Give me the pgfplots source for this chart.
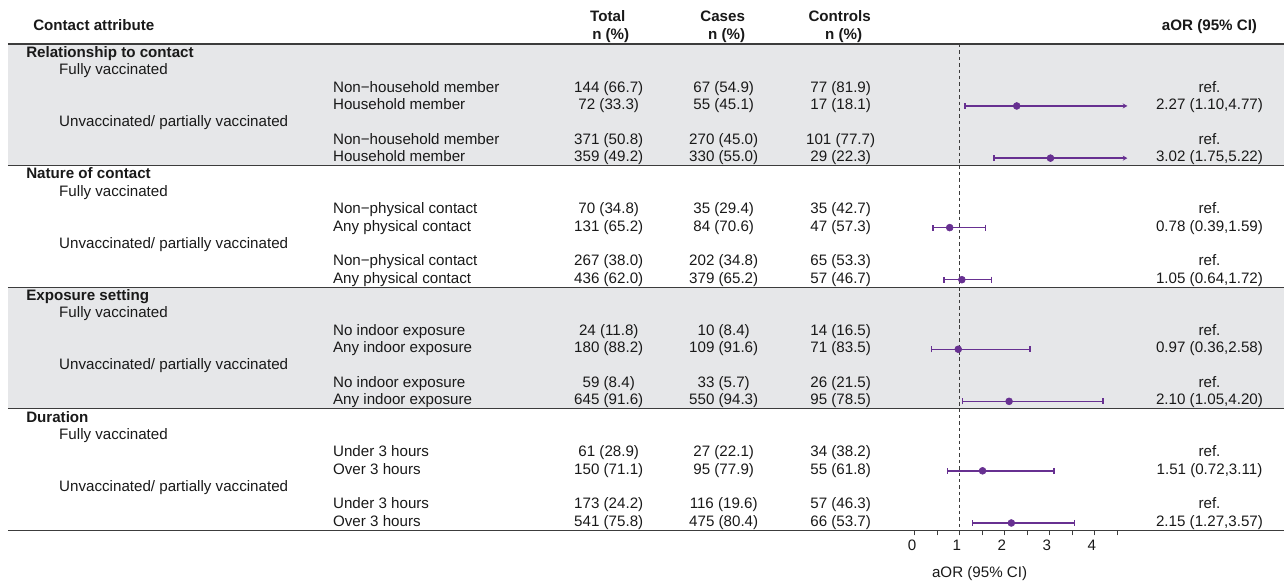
\documentclass[border=0pt]{standalone}
\usepackage{fontspec}
\setmainfont{Liberation Sans}
\usepackage{pgfplots}
\pgfplotsset{compat=1.18}
\usetikzlibrary{arrows.meta}

\definecolor{band}{RGB}{230,231,233}
\definecolor{rulegray}{RGB}{60,60,60}
\definecolor{txt}{RGB}{25,25,25}
\definecolor{purp}{RGB}{103,48,145}

\newcommand\fs{\fontsize{11.36pt}{13.6pt}\selectfont}

% one table row: row number, level, total, cases, controls, aOR text
\newcommand\lvl[6]{%
  \pgfmathsetmacro\yy{57.3+(#1-1)*17.38}
  \node[anchor=base west] at (333,\yy) {#2};
  \node[anchor=base] at (609,\yy) {#3};
  \node[anchor=base] at (724,\yy) {#4};
  \node[anchor=base] at (841,\yy) {#5};
  \node[anchor=base] at (1210,\yy) {#6};
}
\newcommand\grp[2]{%
  \pgfmathsetmacro\yy{57.3+(#1-1)*17.38}
  \node[anchor=base west] at (26,\yy) {\bfseries #2};
}
\newcommand\sub[2]{%
  \pgfmathsetmacro\yy{57.3+(#1-1)*17.38}
  \node[anchor=base west] at (59,\yy) {#2};
}

\begin{document}
\begin{tikzpicture}[x=0.75pt, y=-0.75pt, every node/.style={font=\fs, text=txt, inner sep=0pt}]

\path (0,0) rectangle (1285,584);

% shaded groups
\fill[band] (8,44) rectangle (1285,165.7);
\fill[band] (8,287.3) rectangle (1285,408.9);

% header
\node[anchor=base west] at (33,31) {\bfseries Contact attribute};
\node[anchor=base] at (608,21.7) {\bfseries Total};
\node[anchor=base] at (611,40) {\bfseries n (\%)};
\node[anchor=base] at (723,21.7) {\bfseries Cases};
\node[anchor=base] at (727,40) {\bfseries n (\%)};
\node[anchor=base] at (840,21.7) {\bfseries Controls};
\node[anchor=base] at (844,40) {\bfseries n (\%)};
\node[anchor=base] at (1210,31) {\bfseries aOR (95\% CI)};

\grp{1}{Relationship to contact}
\sub{2}{Fully vaccinated}
\lvl{3}{Non−household member}{144 (66.7)}{67 (54.9)}{77 (81.9)}{ref.}
\lvl{4}{Household member}{72 (33.3)}{55 (45.1)}{17 (18.1)}{2.27 (1.10,4.77)}
\sub{5}{Unvaccinated/ partially vaccinated}
\lvl{6}{Non−household member}{371 (50.8)}{270 (45.0)}{101 (77.7)}{ref.}
\lvl{7}{Household member}{359 (49.2)}{330 (55.0)}{29 (22.3)}{3.02 (1.75,5.22)}

\grp{8}{Nature of contact}
\sub{9}{Fully vaccinated}
\lvl{10}{Non−physical contact}{70 (34.8)}{35 (29.4)}{35 (42.7)}{ref.}
\lvl{11}{Any physical contact}{131 (65.2)}{84 (70.6)}{47 (57.3)}{0.78 (0.39,1.59)}
\sub{12}{Unvaccinated/ partially vaccinated}
\lvl{13}{Non−physical contact}{267 (38.0)}{202 (34.8)}{65 (53.3)}{ref.}
\lvl{14}{Any physical contact}{436 (62.0)}{379 (65.2)}{57 (46.7)}{1.05 (0.64,1.72)}

\grp{15}{Exposure setting}
\sub{16}{Fully vaccinated}
\lvl{17}{No indoor exposure}{24 (11.8)}{10 (8.4)}{14 (16.5)}{ref.}
\lvl{18}{Any indoor exposure}{180 (88.2)}{109 (91.6)}{71 (83.5)}{0.97 (0.36,2.58)}
\sub{19}{Unvaccinated/ partially vaccinated}
\lvl{20}{No indoor exposure}{59 (8.4)}{33 (5.7)}{26 (21.5)}{ref.}
\lvl{21}{Any indoor exposure}{645 (91.6)}{550 (94.3)}{95 (78.5)}{2.10 (1.05,4.20)}

\grp{22}{Duration}
\sub{23}{Fully vaccinated}
\lvl{24}{Under 3 hours}{61 (28.9)}{27 (22.1)}{34 (38.2)}{ref.}
\lvl{25}{Over 3 hours}{150 (71.1)}{95 (77.9)}{55 (61.8)}{1.51 (0.72,3.11)}
\sub{26}{Unvaccinated/ partially vaccinated}
\lvl{27}{Under 3 hours}{173 (24.2)}{116 (19.6)}{57 (46.3)}{ref.}
\lvl{28}{Over 3 hours}{541 (75.8)}{475 (80.4)}{66 (53.7)}{2.15 (1.27,3.57)}

% rules
\foreach \r in {44,165.7,287.3,408.9,530.6}
  \draw[rulegray, line width=0.8pt] (8,\r) -- (1285,\r);

\begin{axis}[
  at={(686.25pt,-397.95pt)}, anchor=south west,
  scale only axis,
  width=160.3125pt, height=364.95pt,
  xmin=0, xmax=4.75,
  ymin=44, ymax=530.6, y dir=reverse,
  clip=false,
  axis x line*=bottom, hide y axis,
  axis line style={-, draw=rulegray, line width=0.8pt},
  xtick={0,1,2,3,4},
  minor xtick={0.5,1.5,2.5,3.5,4.5},
  tick align=outside,
  major tick length=3.75pt, minor tick length=3.75pt,
  tick style={rulegray, line width=0.8pt},
  ytick=\empty,
  /pgf/number format/assume math mode=true,
  xticklabel style={font=\fs, text=txt, inner sep=0pt, yshift=-3.5pt, xshift=-2pt},
]
\addplot[rulegray, line width=0.8pt, dash pattern=on 2.6pt off 2.2pt] coordinates {(1,44) (1,530.6)};

% confidence intervals (upper ends of the first two are cut at the panel edge)
\pgfplotsset{ci/.style={purp, line width=1.05pt}}
\addplot[ci, {Bar[width=4.5pt]}-{Stealth[length=3.5pt,width=3.8pt]}] coordinates {(1.10,106.0) (4.73,106.0)};
\addplot[ci, {Bar[width=4.5pt]}-{Stealth[length=3.5pt,width=3.8pt]}] coordinates {(1.75,158.2) (4.73,158.2)};
\addplot[ci, {Bar[width=4.5pt]}-{Bar[width=4.5pt]}] coordinates {(0.39,227.7) (1.59,227.7)};
\addplot[ci, {Bar[width=4.5pt]}-{Bar[width=4.5pt]}] coordinates {(0.64,279.8) (1.72,279.8)};
\addplot[ci, {Bar[width=4.5pt]}-{Bar[width=4.5pt]}] coordinates {(0.36,349.4) (2.58,349.4)};
\addplot[ci, {Bar[width=4.5pt]}-{Bar[width=4.5pt]}] coordinates {(1.05,401.5) (4.20,401.5)};
\addplot[ci, {Bar[width=4.5pt]}-{Bar[width=4.5pt]}] coordinates {(0.72,471.0) (3.11,471.0)};
\addplot[ci, {Bar[width=4.5pt]}-{Bar[width=4.5pt]}] coordinates {(1.27,523.2) (3.57,523.2)};

% point estimates
\addplot[only marks, mark=*, mark size=2.6pt, purp, mark options={fill=purp, draw=purp}] table {
x    y
2.27 106.0
3.02 158.2
0.78 227.7
1.05 279.8
0.97 349.4
2.10 401.5
1.51 471.0
2.15 523.2
};
\end{axis}

\node[anchor=base] at (980,577.3) {aOR (95\% CI)};

\end{tikzpicture}
\end{document}
